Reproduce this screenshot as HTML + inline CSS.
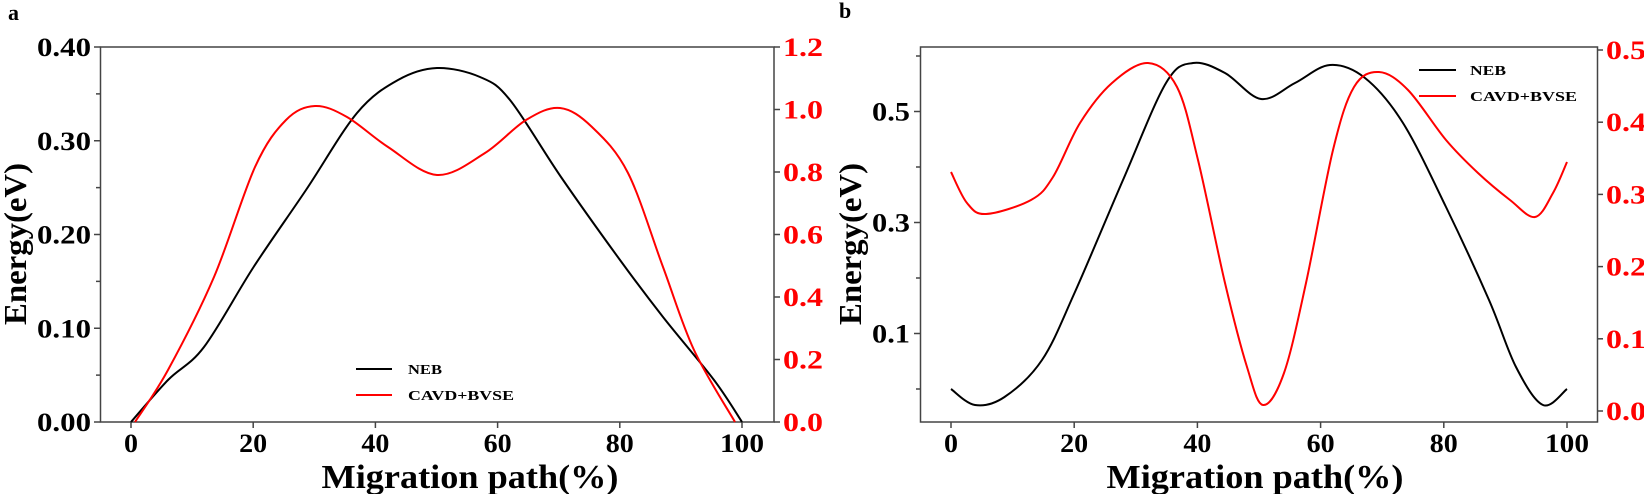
<!DOCTYPE html>
<html><head><meta charset="utf-8"><style>
html,body{margin:0;padding:0;background:#fff;}
svg{display:block;}
text{font-family:"Liberation Serif",serif;font-weight:bold;}
</style></head><body>
<svg id="s" width="1644" height="494" viewBox="0 0 1644 494" xmlns="http://www.w3.org/2000/svg">
<text x="8" y="20" font-size="22">a</text>
<text x="839" y="18" font-size="22">b</text>
<!-- panel a frame -->
<g stroke="#444" stroke-width="1.5" fill="none">
<rect x="100.5" y="47" width="673.5" height="375"/>
</g>
<g id="ga"></g>
<g id="gb"></g>
<g stroke="#444" stroke-width="1.5" fill="none">
<rect x="920.5" y="47" width="677" height="375"/>
</g>
<!-- axis labels -->
<text x="470" y="488" font-size="34" text-anchor="middle" textLength="297" lengthAdjust="spacingAndGlyphs">Migration path(%)</text>
<text x="1255" y="488" font-size="34" text-anchor="middle" textLength="297" lengthAdjust="spacingAndGlyphs">Migration path(%)</text>
<text transform="translate(26,244) rotate(-90)" font-size="32" text-anchor="middle" textLength="162" lengthAdjust="spacingAndGlyphs">Energy(eV)</text>
<text transform="translate(861,244) rotate(-90)" font-size="32" text-anchor="middle" textLength="162" lengthAdjust="spacingAndGlyphs">Energy(eV)</text>
<!-- legends -->
<line x1="356" y1="369" x2="392" y2="369" stroke="#000" stroke-width="2"/>
<line x1="356" y1="395" x2="392" y2="395" stroke="#f00" stroke-width="2"/>
<text x="408" y="374" font-size="14" textLength="34" lengthAdjust="spacingAndGlyphs">NEB</text>
<text x="408" y="400" font-size="14" textLength="106" lengthAdjust="spacingAndGlyphs">CAVD+BVSE</text>
<line x1="1419" y1="70" x2="1456" y2="70" stroke="#000" stroke-width="2"/>
<line x1="1419" y1="96" x2="1456" y2="96" stroke="#f00" stroke-width="2"/>
<text x="1470" y="75" font-size="14" textLength="36" lengthAdjust="spacingAndGlyphs">NEB</text>
<text x="1470" y="101" font-size="14" textLength="107" lengthAdjust="spacingAndGlyphs">CAVD+BVSE</text>
</svg>
<script>
var NS="http://www.w3.org/2000/svg",s=document.getElementById('s');
function el(t,a,txt){var e=document.createElementNS(NS,t);for(var k in a)e.setAttribute(k,a[k]);if(txt!==undefined)e.textContent=txt;s.appendChild(e);return e;}
function line(x1,y1,x2,y2,c){el('line',{x1:x1,y1:y1,x2:x2,y2:y2,stroke:c||'#444','stroke-width':1.5});}
function txt(x,y,t,anchor,col,fs,len){var a={x:x,y:y,'font-size':fs||26,'text-anchor':anchor,fill:col||'#000'};if(len){a.textLength=len;a.lengthAdjust='spacingAndGlyphs';}el('text',a,t);}
function smooth(p,col){var d='M'+p[0][0]+','+p[0][1];for(var i=0;i<p.length-1;i++){var p0=p[i-1]||p[i],p1=p[i],p2=p[i+1],p3=p[i+2]||p2;
var c1x=p1[0]+(p2[0]-p0[0])/6,c1y=p1[1]+(p2[1]-p0[1])/6,c2x=p2[0]-(p3[0]-p1[0])/6,c2y=p2[1]-(p3[1]-p1[1])/6;
d+=' C'+c1x+','+c1y+' '+c2x+','+c2y+' '+p2[0]+','+p2[1];}
el('path',{d:d,fill:'none',stroke:col,'stroke-width':2,'stroke-linejoin':'round'});}
// panel a
for(var i=0;i<=5;i++){var x=131+i*122.2;line(x,422,x,428);txt(x,452,String(i*20),'middle','#000',26,i==5?44:(i==0?14:28));}
for(var i=0;i<=8;i++){var y=422-i*46.875;line(100.5,y,i%2?96:94,y);if(i%2==0)txt(91,y+9,(i/20).toFixed(2),'end','#000',26,54);}
for(var i=0;i<=6;i++){var y=422-i*62.5;line(774,y,780,y);txt(783,y+9,(i*0.2).toFixed(1),'start','#f00',26,40);}
smooth([[131,422],[168,380],[204,347],[253.6,267],[306,190],[357,113],[398,80],[437,68],[480,77],[510,100],[561,177],[620,260],[663,317],[714,380],[742,422]],'#000');
smooth([[135,422],[168,370],[214,277],[255,167],[286,120],[315,106],[347,117],[388,147],[437,175],[485,153],[526,120],[560,108],[592,127],[628,173],[663,267],[694,350],[735,422]],'#f00');
// panel b
for(var i=0;i<=5;i++){var x=951+i*123.2;line(x,422,x,428);txt(x,452,String(i*20),'middle','#000',26,i==5?44:(i==0?14:28));}
for(var i=0;i<=6;i++){var y=389-i*55.5;line(920.5,y,i%2?914:916,y);if(i%2)txt(910,y+9,(i/10).toFixed(1),'end','#000',26,38);}
for(var i=0;i<=5;i++){var y=411-i*72.2;line(1597.5,y,1603,y);txt(1606,y+9,(i/10).toFixed(1),'start','#f00',26,40);}
smooth([[951,389],[975,405],[1004.5,397],[1042,360],[1074.5,293],[1123,180],[1166,83],[1193,63],[1225,73],[1261,99],[1295,83],[1330,65],[1365,78],[1403,123],[1446,207],[1489,300],[1516,367],[1543,405],[1567,389]],'#000');
smooth([[951,172],[967,203],[986,214],[1031,200],[1053,177],[1080,123],[1112,83],[1148,63],[1177,87],[1198,160],[1225,283],[1247,367],[1263,405],[1284,373],[1306,283],[1333,150],[1354,87],[1379,72],[1408,90],[1446,140],[1478,173],[1510,200],[1535,217],[1553,193],[1567,162]],'#f00');
</script>
</body></html>
